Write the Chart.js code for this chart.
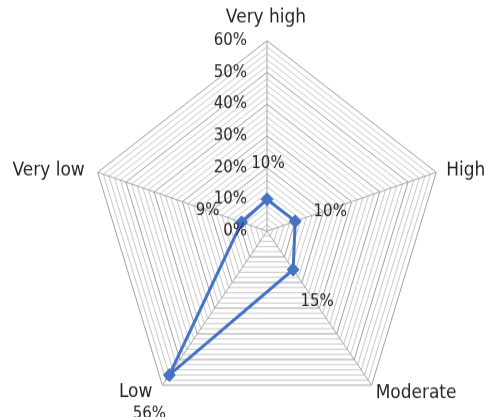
<!DOCTYPE html>
<html>
<head>
<meta charset="utf-8">
<script src="https://cdn.jsdelivr.net/npm/chart.js@4.4.0/dist/chart.umd.min.js"></script>
<style>
html, body { margin: 0; padding: 0; background: #fff; overflow: hidden; }
</style>
</head>
<body>
<!-- the original picture is a bit taller than wide, so the canvas is stretched vertically -->
<canvas id="chart1" width="485" height="400" style="display:block;width:485px;height:427.6px"></canvas>
<script>
var categories = ["Very high", "High", "Moderate", "Low", "Very low"];
var values = [10, 10, 15, 56, 9];
var valueLabels = ["10%", "10%", "15%", "56%", "9%"];
var tickValues = [0, 10, 20, 30, 40, 50, 60];
var tickLabels = ["0%", "10%", "20%", "30%", "40%", "50%", "60%"];

var stretch = 427.6 / 400;
var textColor = "#262626";
var font = "DejaVu Sans";

// label offsets (screen px) from the vertex / data point
var catOffsets = [[-1, -23, "center"], [10, -2, "left"], [4, 8, "left"], [-10, 7, "right"], [-13, -2, "right"]];
var valOffsets = [[1, -35], [35, -9], [24, 32], [-20, 39], [-34, -11]];

var labelPlugin = {
    id: "labels",
    afterDraw: function(chart) {
        var ctx = chart.ctx;
        var scale = chart.scales.r;
        ctx.save();
        ctx.fillStyle = textColor;
        ctx.textBaseline = "middle";

        // tick labels, left of the top spoke
        ctx.font = "15px '" + font + "'";
        ctx.textAlign = "right";
        for (var i = 0; i < tickValues.length; i++) {
            var y = scale.yCenter - scale.getDistanceFromCenterForValue(tickValues[i]);
            ctx.fillText(tickLabels[i], scale.xCenter - 20, y);
        }

        // category labels
        ctx.font = "17px '" + font + "'";
        for (var j = 0; j < categories.length; j++) {
            var p = scale.getPointPosition(j, scale.drawingArea);
            var o = catOffsets[j];
            ctx.textAlign = o[2];
            ctx.fillText(categories[j], p.x + o[0], p.y + o[1] / stretch);
        }

        // data labels
        ctx.font = "15px '" + font + "'";
        ctx.textAlign = "center";
        var pts = chart.getDatasetMeta(0).data;
        for (var k = 0; k < pts.length; k++) {
            var v = valOffsets[k];
            ctx.fillText(valueLabels[k], pts[k].x + v[0], pts[k].y + v[1] / stretch);
        }
        ctx.restore();
    }
};

new Chart("chart1", {
    type: "radar",
    data: {
        labels: categories,
        datasets: [
            {
                data: values,
                borderColor: "#4472c4",
                backgroundColor: "#4472c4",
                borderWidth: 3,
                fill: false,
                pointStyle: "rectRot",
                pointRadius: 6,
                pointBorderWidth: 1,
                pointBackgroundColor: "#4472c4",
                pointBorderColor: "#4472c4"
            }
        ]
    },
    options: {
        responsive: false,
        animation: false,
        layout: {
            padding: { left: 88.5, right: 39.5, top: 37.5, bottom: 5.5 }
        },
        plugins: {
            legend: { display: false },
            tooltip: { enabled: false }
        },
        scales: {
            r: {
                min: 0,
                max: 60,
                ticks: { display: false, stepSize: 2 },
                pointLabels: { display: false },
                angleLines: { color: "#a6a6a6", lineWidth: 1 },
                grid: {
                    lineWidth: 1,
                    color: function(c) {
                        return c.tick && c.tick.value % 10 === 0 ? "#a0a0a0" : "#c8c8c8";
                    }
                }
            }
        }
    },
    plugins: [labelPlugin]
});
</script>
</body>
</html>
